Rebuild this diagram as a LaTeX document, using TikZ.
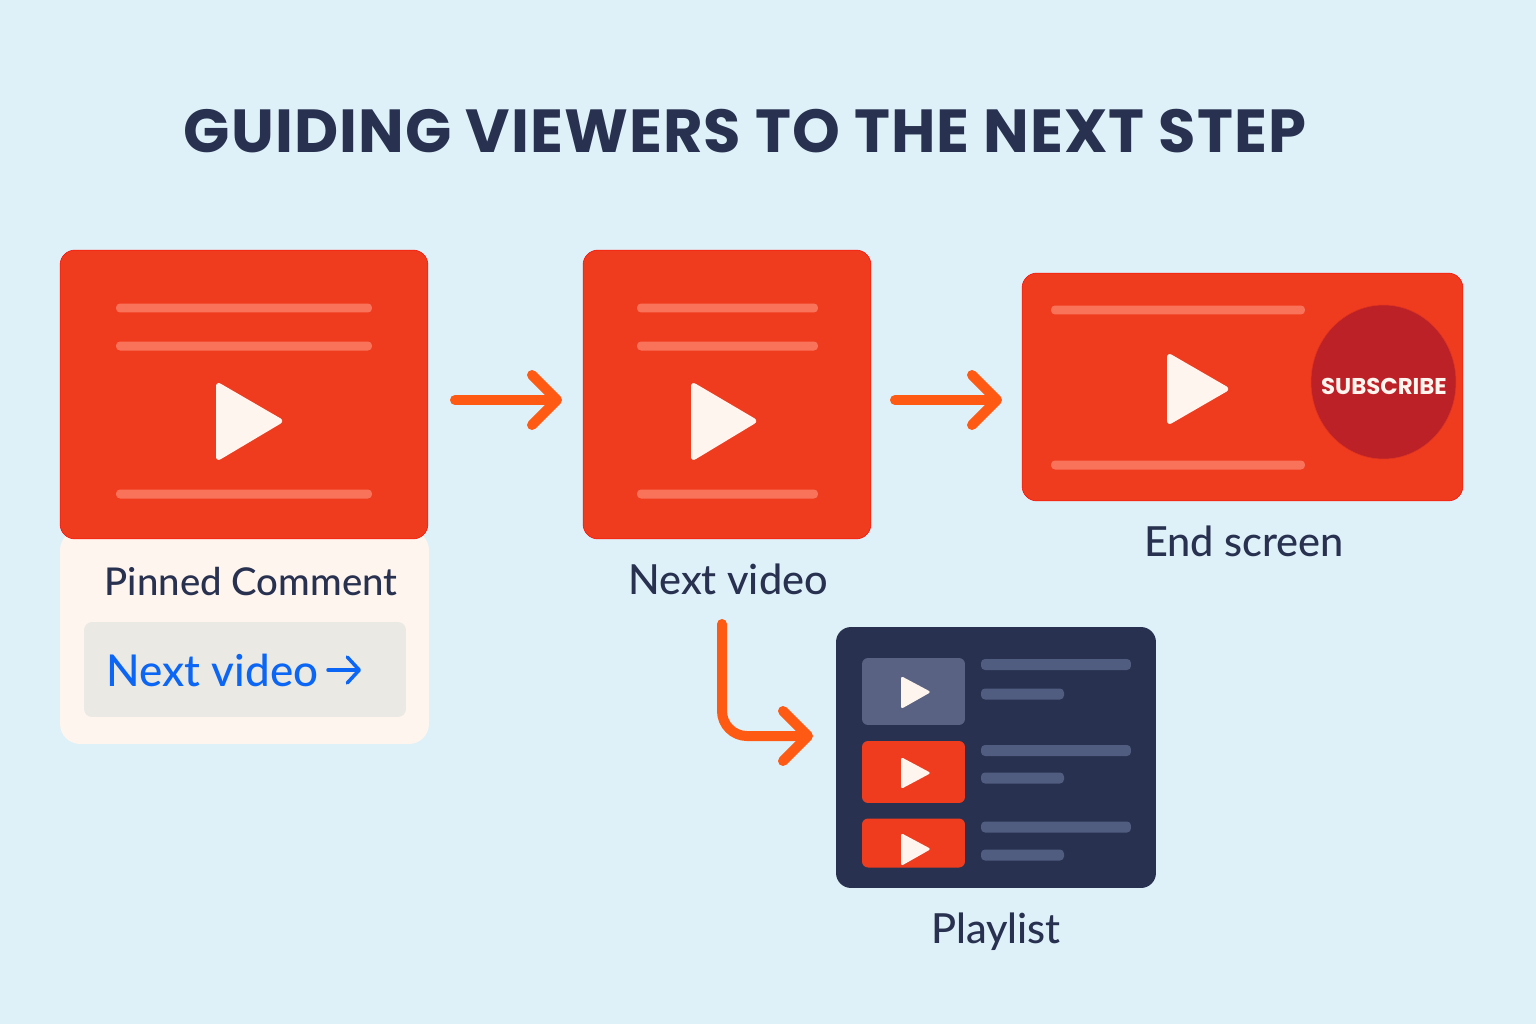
\documentclass[tikz,border=0pt]{standalone}
\usepackage{fontspec}
\setmainfont{Lato Medium}
\newfontfamily\titlefont[LetterSpace=1.8]{Poppins}
\newfontfamily\subfont{Poppins}
\usetikzlibrary{arrows.meta,shapes.geometric}
\definecolor{skybg}{HTML}{DEF1F8}
\definecolor{navy}{HTML}{28314F}
\definecolor{redcard}{HTML}{EF3C1E}
\definecolor{redbar}{HTML}{F9735A}
\definecolor{cream}{HTML}{FEF5EE}
\definecolor{greybox}{HTML}{EBE9E3}
\definecolor{linkblue}{HTML}{0B66F5}
\definecolor{darkred}{HTML}{BC2127}
\definecolor{flow}{HTML}{FF5A14}
\definecolor{slatebar}{HTML}{505C80}
\definecolor{slatethumb}{HTML}{5A6283}
\tikzset{
 x=0.02cm,y=-0.02cm,
 box/.style={inner sep=0pt,outer sep=0pt,rounded corners=0.3cm},
 card/.style={box,fill=redcard,draw=red!85!redcard,line width=0.3pt},
 bar/.style={inner sep=0pt,outer sep=0pt,fill=#1,rounded corners=0.08cm,minimum height=0.18cm},
 thumb/.style={box,rounded corners=0.12cm,minimum width=2.06cm},
 playicon/.style={fill=cream,rounded corners=0.11cm},
 miniplay/.style={fill=cream,rounded corners=0.05cm},
 caption/.style={text=navy,font=\fontsize{23.6}{28}\selectfont,inner sep=0pt},
 flowarrow/.style={draw=flow,line width=0.2cm,line cap=round,rounded corners=0.5cm,
  -{Straight Barb[round,length=0.5cm,width=1cm,line width=0.2cm]}},
}
\begin{document}
\begin{tikzpicture}
 \useasboundingbox (0,0) rectangle (1536,1024);
 \fill [skybg] (0,0) rectangle (1536,1024);

 \node (title) at (745,131) [text=navy,inner sep=0pt,font=\titlefont\bfseries\fontsize{34.6}{42}\selectfont] {GUIDING VIEWERS TO THE NEXT STEP};

 % first column
 \node (panel) at (244.5,637) [box,rounded corners=0.4cm,fill=cream,minimum width=7.38cm,minimum height=4.28cm] {};
 \node (card1) at (244,394.5) [card,minimum width=7.36cm,minimum height=5.78cm] {};
 \node (bar1a) at (244,308) [bar=redbar,minimum width=5.12cm] {};
 \node (bar1b) at (244,346) [bar=redbar,minimum width=5.12cm] {};
 \node (bar1c) at (244,494) [bar=redbar,minimum width=5.12cm] {};
 \fill [playicon] (216,381) -- (285,421) -- (216,462) -- cycle;
 \node (pinned) at (251,582) [caption,font=\fontsize{21.8}{26}\selectfont] {Pinned Comment};
 \node (linkbox) at (245,669.5) [box,rounded corners=0.16cm,fill=greybox,minimum width=6.44cm,minimum height=1.9cm] {};
 \node (linktext) at (212.5,670) [text=linkblue,inner sep=0pt,font=\fontsize{25}{30}\selectfont] {Next video};
 \coordinate (linkstart) at (328,670);
 \coordinate (linkend) at (361,670);
 \draw [linkblue,line width=0.07cm,line cap=round,-{Straight Barb[round,length=0.24cm,width=0.52cm,line width=0.07cm]}] (linkstart)--(linkend);

 % second column
 \node (card2) at (727,394.5) [card,minimum width=5.76cm,minimum height=5.78cm] {};
 \node (bar2a) at (727.5,308) [bar=redbar,minimum width=3.62cm] {};
 \node (bar2b) at (727.5,346) [bar=redbar,minimum width=3.62cm] {};
 \node (bar2c) at (727.5,494) [bar=redbar,minimum width=3.62cm] {};
 \fill [playicon] (691,381) -- (759,421) -- (691,462) -- cycle;
 \node (nextvideo) at (728,579) [caption] {Next video};

 % end screen
 \node (card3) at (1242.5,387) [card,minimum width=8.82cm,minimum height=4.56cm] {};
 \node (bar3a) at (1178,310) [bar=redbar,minimum width=5.08cm] {};
 \node (bar3b) at (1178,465) [bar=redbar,minimum width=5.08cm] {};
 \fill [playicon] (1167,352) -- (1231,389) -- (1167,426) -- cycle;
 \node (subscribe) at (1383.5,382) [ellipse,fill=darkred,draw=redcard!70!darkred,line width=0.3pt,minimum width=2.9cm,minimum height=3.08cm,inner sep=0pt] {};
 \node (subtext) at (1384,386) [text=cream,inner sep=0pt,font=\subfont\bfseries\fontsize{13}{16}\selectfont] {SUBSCRIBE};
 \node (endscreen) at (1244,541) [caption] {End screen};

 % playlist
 \node (playlist) at (996,757.5) [box,fill=navy,minimum width=6.4cm,minimum height=5.22cm] {};
 \node (thumb1) at (913.5,691.5) [thumb,fill=slatethumb,minimum height=1.34cm] {};
 \node (thumb2) at (913.5,772) [thumb,fill=redcard,minimum height=1.24cm] {};
 \node (thumb3) at (913.5,843) [thumb,fill=redcard,minimum height=0.98cm] {};
 \fill [miniplay] (901,676) -- (931,692) -- (901,709) -- cycle;
 \fill [miniplay] (901,757) -- (931,773) -- (901,789) -- cycle;
 \fill [miniplay] (901,833) -- (931,849) -- (901,866) -- cycle;
 \node (line1a) at (1056,664.5) [bar=slatebar,minimum width=3.0cm,minimum height=0.22cm] {};
 \node (line1b) at (1022.5,694) [bar=slatebar,minimum width=1.66cm,minimum height=0.22cm] {};
 \node (line2a) at (1056,750.5) [bar=slatebar,minimum width=3.0cm,minimum height=0.22cm] {};
 \node (line2b) at (1022.5,778) [bar=slatebar,minimum width=1.66cm,minimum height=0.22cm] {};
 \node (line3a) at (1056,827) [bar=slatebar,minimum width=3.0cm,minimum height=0.22cm] {};
 \node (line3b) at (1022.5,855) [bar=slatebar,minimum width=1.66cm,minimum height=0.22cm] {};
 \node (playlistname) at (996,932) [caption] {Playlist};

 % connectors
 \coordinate (flow1) at (455,400);
 \coordinate (flow2) at (562,400);
 \coordinate (flow3) at (895,400);
 \coordinate (flow4) at (1002,400);
 \coordinate (flow5) at (722,624);
 \coordinate (flow6) at (813,736);
 \draw [flowarrow] (flow1)--(flow2);
 \draw [flowarrow] (flow3)--(flow4);
 \draw [flowarrow] (flow5)|-(flow6);
\end{tikzpicture}
\end{document}
